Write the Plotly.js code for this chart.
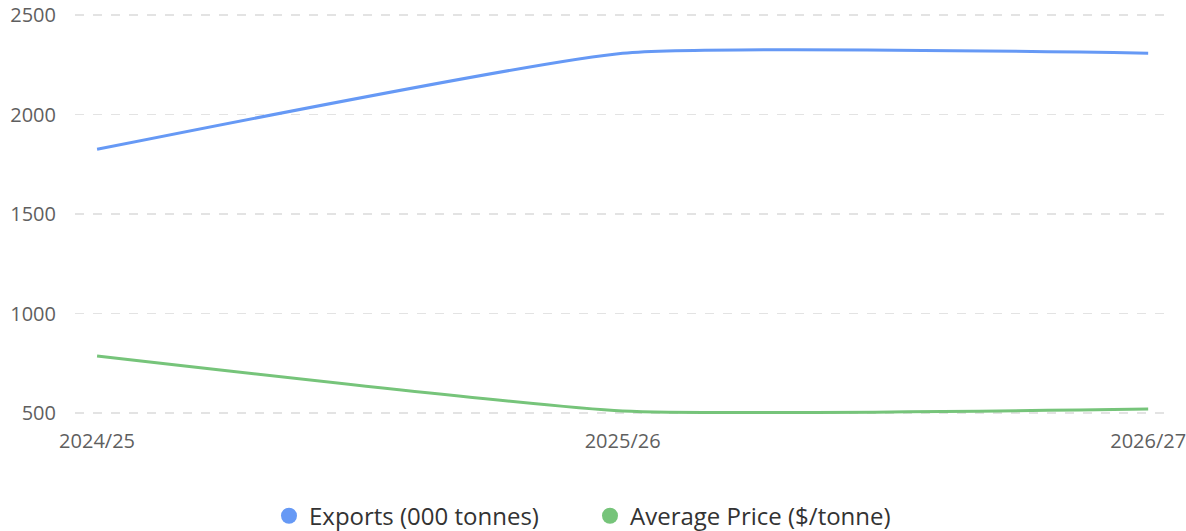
<!DOCTYPE html>
<html>
<head>
<meta charset="utf-8">
<script src="https://cdn.plot.ly/plotly-3.0.1.min.js"></script>
<style>html,body{margin:0;padding:0;background:#fff;}#chart{width:1186px;height:531px;}</style>
</head>
<body>
<div id="chart"></div>
<script>
const categories = ["2024/25", "2025/26", "2026/27"];
const exportsValues = [1825, 2308, 2308];
const priceValues = [787, 510, 520];
const seriesNames = ["Exports (000 tonnes)", "Average Price ($/tonne)"];
const yTicks = [500, 1000, 1500, 2000, 2500];

const colors = ["#6699f5", "#76c47a"];
const font = "'Open Sans', 'Noto Sans', sans-serif";
const series = [exportsValues, priceValues];
const traces = [];
series.forEach((vals, i) => {
  traces.push({x: categories, y: vals, name: seriesNames[i], type: "scatter", mode: "lines",
    showlegend: false, hoverinfo: "skip",
    line: {color: colors[i], width: 3, shape: "spline", smoothing: 0.45}});
});
series.forEach((vals, i) => {
  traces.push({x: [null], y: [null], name: seriesNames[i], type: "scatter", mode: "markers",
    marker: {color: colors[i], size: 18, symbol: "circle"}});
});
const layout = {
  width: 1186, height: 531,
  margin: {l: 75, r: 21, t: 13, b: 116},
  paper_bgcolor: "#fff", plot_bgcolor: "#fff",
  font: {family: font, size: 20, color: "#5f5f5f"},
  showlegend: true,
  legend: {orientation: "h", xref: "container", yref: "container", x: 0.2268, xanchor: "left", y: 0.028, yanchor: "middle",
    font: {size: 24, color: "#333"}, itemwidth: 30, entrywidth: 276, entrywidthmode: "pixels", tracegroupgap: 0},
  xaxis: {type: "category", range: [-0.042, 2.032], showgrid: false, zeroline: false, showline: false,
    ticks: "", ticklabelstandoff: 12, tickfont: {size: 20, color: "#5f5f5f"}, fixedrange: true},
  yaxis: {range: [490, 2510], tickvals: yTicks, showgrid: true, gridcolor: "#e3e3e3", griddash: "dash", gridwidth: 1.5,
    zeroline: false, showline: false, ticks: "", ticklabelstandoff: 18, tickfont: {size: 20, color: "#5f5f5f"}}
};
Plotly.newPlot("chart", traces, layout, {displayModeBar: false, staticPlot: true});
</script>
</body>
</html>
